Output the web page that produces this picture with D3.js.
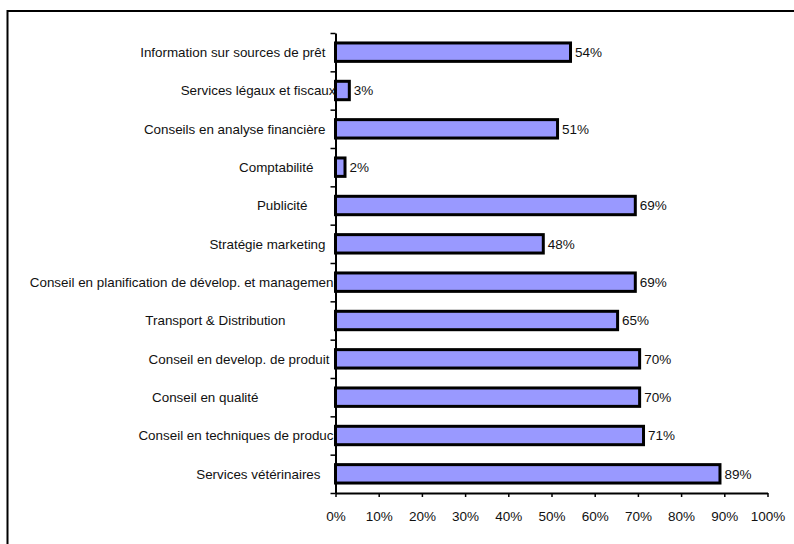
<!DOCTYPE html>
<html>
<head>
<meta charset="utf-8">
<script src="https://cdn.jsdelivr.net/npm/d3@7"></script>
<style>
  body { margin: 0; background: #fff; }
  text { font-family: "Liberation Sans", Arial, sans-serif; fill: #111; }
</style>
</head>
<body>
<script>
// chart data (top to bottom)
var categories = [
    "Information sur sources de prêt",
    "Services légaux et fiscaux",
    "Conseils en analyse financière",
    "Comptabilité",
    "Publicité",
    "Stratégie marketing",
    "Conseil en planification de dévelop. et managemen",
    "Transport & Distribution",
    "Conseil en develop. de produit",
    "Conseil en qualité",
    "Conseil en techniques de produc",
    "Services vétérinaires"
];
var values = [54.4, 3.2, 51.4, 2.2, 69.4, 48.1, 69.4, 65.3, 70.4, 70.4, 71.3, 89.0];
var xTickValues = [0, 10, 20, 30, 40, 50, 60, 70, 80, 90, 100];

// gap between label end and the axis (the labels are not aligned in the original)
var labelGap = [10, 0, 10, 22, 28, 10, 2, 50, 6, 77, 2, 15];

var w = 794;
var h = 544;
var padLeft = 335.5, padTop = 33, plotW = 432, plotH = 460;

var svg = d3.select("body")
    .append("svg")
    .attr("width", w)
    .attr("height", h);

// outer frame (cut off at right and bottom like the original)
svg.append("rect")
    .attr("x", 7.5)
    .attr("y", 11)
    .attr("width", 800)
    .attr("height", 560)
    .attr("fill", "none")
    .attr("stroke", "#000")
    .attr("stroke-width", 2);

var xScale = d3.scaleLinear()
    .domain([0, 100])
    .range([padLeft, padLeft + plotW]);

var yScale = d3.scaleBand()
    .domain(categories)
    .range([padTop, padTop + plotH])
    .paddingInner(0.52)
    .paddingOuter(0.26);

// boundaries between categories, for the y ticks
var yEdge = d3.scaleLinear()
    .domain([0, categories.length])
    .range([padTop, padTop + plotH]);

// bars
svg.selectAll(".bar")
    .data(values)
    .enter()
    .append("rect")
    .attr("class", "bar")
    .attr("x", xScale(0))
    .attr("y", function(d, i) { return yScale(categories[i]); })
    .attr("width", function(d) { return xScale(d) - xScale(0); })
    .attr("height", yScale.bandwidth())
    .attr("fill", "#9999ff")
    .attr("stroke", "#000")
    .attr("stroke-width", 3);

// value labels
svg.selectAll(".val")
    .data(values)
    .enter()
    .append("text")
    .attr("class", "val")
    .attr("x", function(d) { return xScale(d) + 4.5; })
    .attr("y", function(d, i) { return yScale(categories[i]) + yScale.bandwidth() / 2; })
    .attr("dy", "0.36em")
    .attr("font-size", 13.5)
    .text(function(d) { return Math.round(d) + "%"; });

// category labels
svg.selectAll(".cat")
    .data(categories)
    .enter()
    .append("text")
    .attr("class", "cat")
    .attr("text-anchor", "end")
    .attr("x", function(d, i) { return padLeft - labelGap[i]; })
    .attr("y", function(d) { return yScale(d) + yScale.bandwidth() / 2; })
    .attr("dy", "0.36em")
    .attr("font-size", 13.4)
    .text(function(d) { return d; });

// x axis
var xAxis = d3.axisBottom(xScale)
    .tickValues(xTickValues)
    .tickSize(4)
    .tickSizeOuter(0)
    .tickPadding(14)
    .tickFormat(function(d) { return d + "%"; });

var gx = svg.append("g")
    .attr("transform", "translate(0," + (padTop + plotH) + ")")
    .call(xAxis);
gx.select(".domain").attr("stroke-width", 2);
gx.selectAll(".tick line").attr("stroke-width", 1.5);
gx.selectAll(".tick text")
    .attr("font-size", 13.5)
    .attr("font-family", "Liberation Sans, Arial, sans-serif")
    .attr("fill", "#111");

// y axis: ticks on category boundaries, no labels
var yAxis = d3.axisLeft(yEdge)
    .tickValues(d3.range(categories.length + 1))
    .tickSize(5)
    .tickSizeOuter(0)
    .tickFormat("");

var gy = svg.append("g")
    .attr("transform", "translate(" + padLeft + ",0)")
    .call(yAxis);
gy.select(".domain").attr("stroke-width", 2);
gy.selectAll(".tick line").attr("stroke-width", 1.5);
</script>
</body>
</html>
